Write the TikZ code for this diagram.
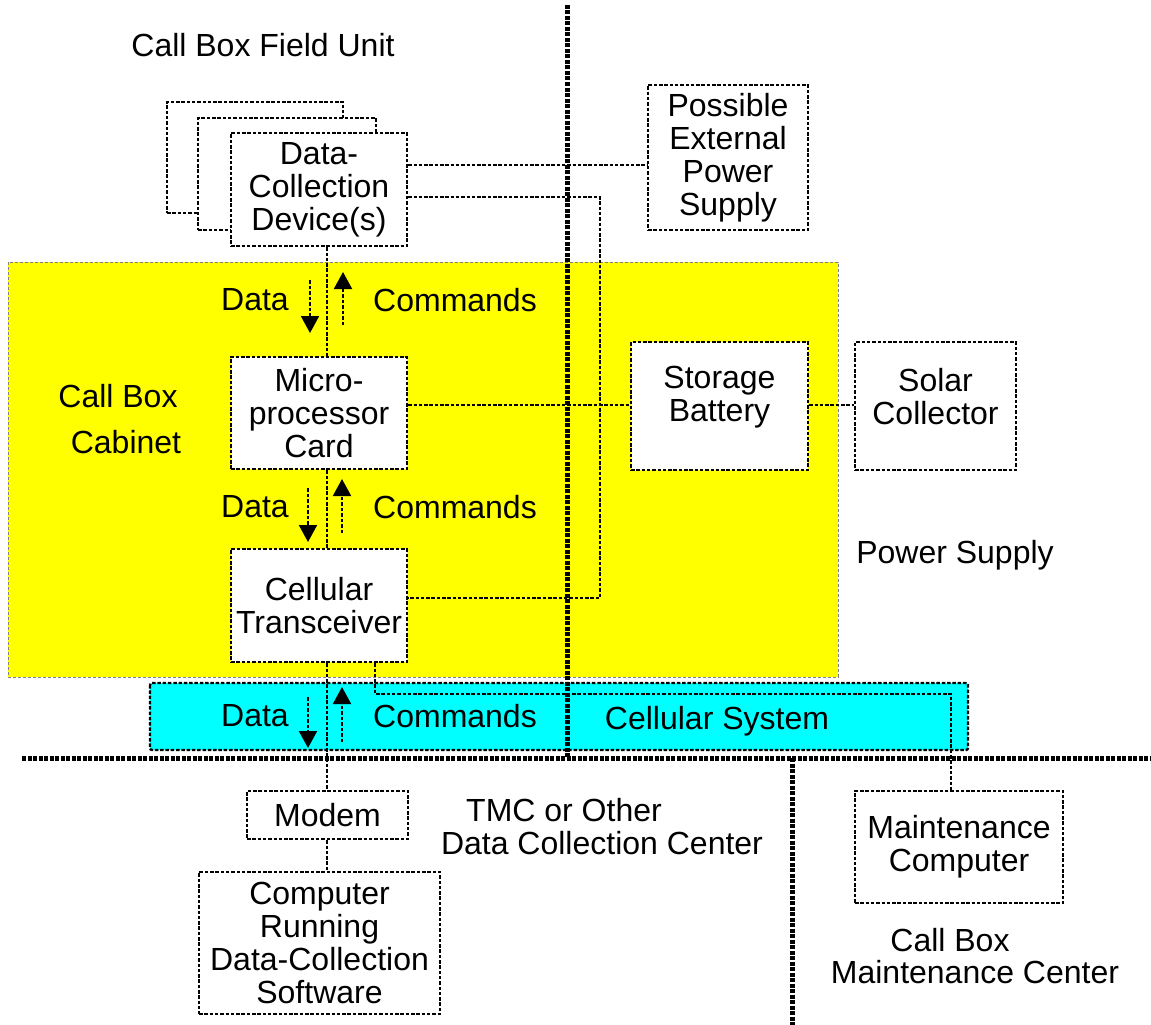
\documentclass[tikz,border=0pt]{standalone}
\usepackage{fontspec}
\setmainfont{Liberation Sans}
\usetikzlibrary{arrows.meta,calc}
\definecolor{ylw}{RGB}{255,255,0}
\definecolor{cyn}{RGB}{0,255,255}
\begin{document}
\begin{tikzpicture}[x=1pt,y=-1pt,
 box/.style={draw, fill=white, line width=2.4pt, dash pattern=on 3.5pt off 1.8pt, align=center, inner sep=0pt, font=\fontsize{32}{33}\selectfont},
 lbl/.style={align=center, inner sep=0pt, font=\fontsize{32}{33}\selectfont},
 conn/.style={line width=2.4pt, dash pattern=on 3.5pt off 1.8pt},
 sep/.style={line width=5pt, dash pattern=on 4pt off 1.5pt},
 flow/.style={line width=2pt, dash pattern=on 3.5pt off 2pt, -{Triangle[length=17pt,width=18pt]}},
]
\useasboundingbox (0,0) rectangle (1151,1025);
% regions
\draw[fill=ylw, draw=gray, line width=0.8pt, dash pattern=on 3pt off 2pt] (8,262) rectangle (838,677);
\draw[fill=cyn, conn, rounded corners=2pt] (150,683) rectangle (968,750);
% separators
\coordinate (s1) at (567,5);
\coordinate (s2) at (567,758);
\coordinate (s3) at (22,758);
\coordinate (s4) at (1151,758);
\coordinate (s5) at (792,758);
\coordinate (s6) at (792,1025);
\draw[sep] (s1) -- (s2);
\draw[sep] (s3) -- (s4);
\draw[sep] (s5) -- (s6);
% labels
\node[lbl] (tfield) at (263,45) {Call Box Field Unit};
\node[lbl] (tcab1) at (118,396) {Call Box};
\node[lbl] (tcab2) at (126,442) {Cabinet};
\node[lbl] (tpow) at (955,555) {Power Supply};
\node[lbl] (tcell) at (717,721) {Cellular System};
\node[lbl] (ttmc1) at (564,810) {TMC or Other};
\node[lbl] (ttmc2) at (602,843) {Data Collection Center};
\node[lbl] (tmc1) at (950,940) {Call Box};
\node[lbl] (tmc2) at (975,972) {Maintenance Center};
\node[lbl] (d1) at (255,300) {Data};
\node[lbl] (c1) at (455,300) {Commands};
\node[lbl] (d2) at (255,507) {Data};
\node[lbl] (c2) at (455,507) {Commands};
\node[lbl] (d3) at (255,716) {Data};
\node[lbl] (c3) at (455,716) {Commands};
% boxes
\node[box, minimum width=176pt, minimum height=111pt] (dcd3) at (255,157.5) {};
\node[box, minimum width=178pt, minimum height=112pt] (dcd2) at (287,174) {};
\node[box, minimum width=176pt, minimum height=113pt] (dcd) at (319,189.5) {Data-\\Collection\\Device(s)};
\node[box, minimum width=176pt, minimum height=112pt] (mc) at (319,413) {Micro-\\processor\\Card};
\node[box, minimum width=176pt, minimum height=113pt] (ct) at (319,605.5) {Cellular\\Transceiver};
\node[box, minimum width=161pt, minimum height=48pt] (modem) at (327.5,815) {Modem};
\node[box, minimum width=241pt, minimum height=142pt] (comp) at (319.5,943) {Computer\\Running\\Data-Collection\\Software};
\node[box, minimum width=160pt, minimum height=145pt] (pep) at (728,157.5) {Possible\\External\\Power\\Supply};
\node[box, minimum width=208pt, minimum height=112pt] (mcomp) at (959,847) {Maintenance\\Computer};
\node[box, minimum width=177pt, minimum height=128pt] (bat) at (719.5,406) {};
\node[lbl] (batl) at (719.5,397) {Storage\\Battery};
\node[box, minimum width=161pt, minimum height=128pt] (sol) at (935.5,406) {};
\node[lbl] (soll) at (935.5,397) {Solar\\Collector};
% connectors
\coordinate (vx) at (327,0);
\coordinate (vp) at (600,0);
\coordinate (vt) at (375,0);
\coordinate (vm) at (951,0);
\coordinate (h1) at (0,165);
\coordinate (h2) at (0,197);
\coordinate (h3) at (0,598);
\coordinate (h4) at (0,405);
\coordinate (hc) at (0,694);
\draw[conn] (dcd.south -| vx) -- (mc.north -| vx);
\draw[conn] (mc.south -| vx) -- (ct.north -| vx);
\draw[conn] (ct.south -| vx) -- (modem.north -| vx);
\draw[conn] (modem.south -| vx) -- (comp.north -| vx);
\draw[conn] (dcd.east |- h1) -- (pep.west |- h1);
\draw[conn] (dcd.east |- h2) -| (vp |- h3) -- (ct.east |- h3);
\draw[conn] (mc.east |- h4) -- (bat.west |- h4);
\draw[conn] (bat.east |- h4) -- (sol.west |- h4);
\draw[conn] (ct.south -| vt) |- (vm |- hc) -- (mcomp.north -| vm);
% flow arrows
\draw[flow] (310,280) -- (310,333);
\draw[flow] (343,325) -- (343,272);
\draw[flow] (308,488) -- (308,542);
\draw[flow] (342,533) -- (342,479);
\draw[flow] (308,697) -- (308,748);
\draw[flow] (342,742) -- (342,687);
\end{tikzpicture}
\end{document}
